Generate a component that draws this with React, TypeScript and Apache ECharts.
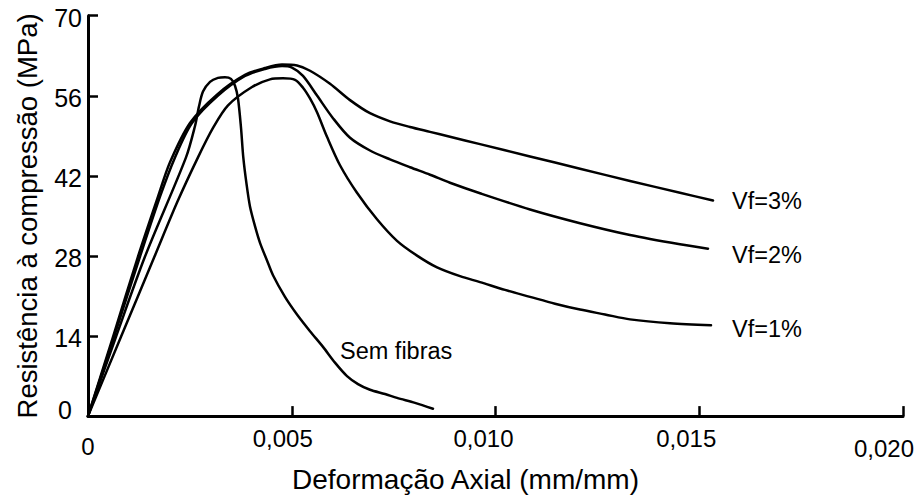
import React, { useEffect, useRef } from "react";
import * as echarts from "echarts";

// Strain (mm/mm) and stress (MPa)
const semFibrasStrain = [0, 0.000687, 0.001399, 0.002405, 0.002626, 0.002724, 0.002822, 0.002994, 0.00319, 0.003362, 0.003509, 0.003607, 0.003681, 0.003755, 0.003811, 0.00389, 0.003975, 0.004098, 0.004221, 0.004393, 0.00454, 0.004834, 0.005129, 0.005448, 0.005767, 0.006061, 0.006356, 0.006626, 0.00692, 0.007288, 0.007583, 0.008025, 0.008466];
const semFibrasStress = [0, 13.87, 27.89, 45.23, 50.72, 54.15, 56.73, 58.44, 59.13, 59.25, 58.96, 57.76, 55.53, 50.38, 45.23, 40.59, 36.65, 33.21, 30.29, 27.21, 24.63, 20.85, 17.77, 14.85, 12.1, 9.35, 7.0, 5.6, 4.6, 3.86, 3.18, 2.32, 1.29];

const vf1Strain = [0, 0.00081, 0.001632, 0.002196, 0.002699, 0.003068, 0.003436, 0.004025, 0.004466, 0.004785, 0.00508, 0.005276, 0.005448, 0.00562, 0.005865, 0.006184, 0.006601, 0.007092, 0.007583, 0.008074, 0.008565, 0.009129, 0.00962, 0.010233, 0.010847, 0.01146, 0.012074, 0.012687, 0.013301, 0.014282, 0.015289];
const vf1Stress = [0, 13.87, 27.89, 37.5, 45.23, 50.38, 54.33, 57.53, 58.87, 59.05, 58.79, 57.41, 55.53, 53.12, 48.83, 43.86, 39.05, 34.41, 30.64, 28.06, 26.0, 24.46, 23.43, 22.06, 20.85, 19.65, 18.62, 17.77, 16.91, 16.22, 15.88];

const vf2Strain = [0, 0.000638, 0.001276, 0.001767, 0.002135, 0.002552, 0.00319, 0.003853, 0.004344, 0.004761, 0.005006, 0.005276, 0.00562, 0.006012, 0.00643, 0.00692, 0.007411, 0.007902, 0.008393, 0.008883, 0.00962, 0.010847, 0.012074, 0.013301, 0.014527, 0.015215];
const vf2Stress = [0, 13.87, 27.89, 38.36, 45.23, 51.24, 56.04, 59.47, 60.68, 61.19, 60.93, 59.47, 56.04, 52.09, 48.66, 46.43, 44.88, 43.51, 42.2, 40.8, 38.96, 36.13, 33.73, 31.67, 30.04, 29.27];

const vf3Strain = [0, 0.000614, 0.001227, 0.001718, 0.002012, 0.002503, 0.003166, 0.003853, 0.004344, 0.004761, 0.005129, 0.005448, 0.005939, 0.00643, 0.00692, 0.007411, 0.007902, 0.008393, 0.008883, 0.00962, 0.010847, 0.012074, 0.013301, 0.014527, 0.015338];
const vf3Stress = [0, 13.87, 27.89, 38.36, 44.37, 51.24, 56.21, 59.65, 60.85, 61.45, 61.28, 60.38, 58.1, 55.24, 52.95, 51.53, 50.55, 49.69, 48.83, 47.55, 45.4, 43.25, 41.11, 39.05, 37.68];

const seriesNames = ["Sem fibras", "Vf=1%", "Vf=2%", "Vf=3%"];
const xTicks = [0, 0.005, 0.01, 0.015, 0.02];
const yTicks = [0, 14, 28, 42, 56, 70];
const xTitle = "Deformação Axial (mm/mm)";
const yTitle = "Resistência à compressão (MPa)";

const FONT = "'Liberation Sans', Arial, Helvetica, sans-serif";

const zip = (xs: number[], ys: number[]) => xs.map((x, i) => [x, ys[i]]);

function App() {
  const ref = useRef<HTMLDivElement>(null);

  useEffect(() => {
    if (!ref.current) return;
    const chart = echarts.init(ref.current, null, { renderer: "svg" });

    const lineBase = {
      type: "line" as const,
      smooth: 0.3,
      symbol: "none",
      showSymbol: false,
      lineStyle: { color: "#000", width: 2.5, join: "round", cap: "round" },
      itemStyle: { color: "#000" },
      silent: true,
    };

    const endLabel = (text: string, distance: number, dy: number) => ({
      show: true,
      formatter: text,
      color: "#000",
      fontSize: 23.5,
      fontFamily: FONT,
      distance,
      offset: [0, dy],
    });

    const xLabelStyle: Record<number, string> = { 0: "z", 0.005: "a", 0.01: "b", 0.015: "c", 0.02: "e" };

    chart.setOption({
      animation: false,
      backgroundColor: "#fff",
      textStyle: { fontFamily: FONT },
      grid: { left: 88, right: 16, top: 15.7, bottom: 74.5, containLabel: false },
      xAxis: {
        type: "value",
        min: xTicks[0],
        max: xTicks[xTicks.length - 1],
        interval: 0.005,
        name: xTitle,
        nameLocation: "middle",
        nameGap: 41,
        nameTextStyle: { fontSize: 28, color: "#000", fontFamily: FONT, padding: [0, 60, 0, 0] },
        axisLine: { show: true, onZero: false, lineStyle: { color: "#000", width: 3 } },
        axisTick: { show: true, inside: true, length: 10, lineStyle: { color: "#000", width: 2.5 } },
        splitLine: { show: false },
        axisLabel: {
          color: "#000",
          fontSize: 24,
          fontFamily: FONT,
          margin: 10,
          formatter: (v: number) => {
            const key = xTicks.find((t) => Math.abs(t - v) < 1e-9);
            const txt = v === 0 ? "0" : v.toFixed(3).replace(".", ",");
            const st = key !== undefined ? xLabelStyle[key] : "a";
            return `{${st}|${txt}}`;
          },
          rich: {
            z: { fontSize: 24, fontFamily: FONT, color: "#000", padding: [8, 0, 0, 0] },
            a: { fontSize: 24, fontFamily: FONT, color: "#000", padding: [0, 18, 0, 0] },
            b: { fontSize: 24, fontFamily: FONT, color: "#000", padding: [0, 24, 0, 0] },
            c: { fontSize: 24, fontFamily: FONT, color: "#000", padding: [0, 26, 0, 0] },
            e: { fontSize: 24, fontFamily: FONT, color: "#000", padding: [10, 38, 0, 0] },
          },
        },
      },
      yAxis: {
        type: "value",
        min: yTicks[0],
        max: yTicks[yTicks.length - 1],
        interval: 14,
        name: yTitle,
        nameLocation: "middle",
        nameGap: 47,
        nameTextStyle: { fontSize: 27.5, color: "#000", fontFamily: FONT },
        axisLine: { show: true, onZero: false, lineStyle: { color: "#000", width: 3 } },
        axisTick: { show: true, inside: true, length: 10, lineStyle: { color: "#000", width: 2.5 } },
        splitLine: { show: false },
        axisLabel: {
          color: "#000",
          fontSize: 25,
          fontFamily: FONT,
          margin: 6,
          formatter: (v: number) => (v === 0 ? "{z|0}" : `{n|${v}}`),
          rich: {
            z: { fontSize: 25, fontFamily: FONT, color: "#000", padding: [0, 10, 12, 0] },
            n: { fontSize: 25, fontFamily: FONT, color: "#000", padding: [4, 0, 0, 0] },
          },
        },
      },
      series: [
        {
          ...lineBase,
          name: seriesNames[0],
          data: zip(semFibrasStrain, semFibrasStress),
          markPoint: {
            symbol: "circle",
            symbolSize: 0,
            silent: true,
            data: [
              {
                coord: [semFibrasStrain[24], semFibrasStress[24]],
                label: {
                  show: true,
                  formatter: seriesNames[0],
                  position: "right",
                  distance: 17,
                  offset: [0, 4],
                  color: "#000",
                  fontSize: 23.5,
                  fontFamily: FONT,
                },
              },
            ],
          },
        },
        {
          ...lineBase,
          name: seriesNames[1],
          data: zip(vf1Strain, vf1Stress),
          endLabel: endLabel(seriesNames[1], 21, 4),
        },
        {
          ...lineBase,
          name: seriesNames[2],
          data: zip(vf2Strain, vf2Stress),
          endLabel: endLabel(seriesNames[2], 24, 6),
        },
        {
          ...lineBase,
          name: seriesNames[3],
          data: zip(vf3Strain, vf3Stress),
          endLabel: endLabel(seriesNames[3], 19, 0),
        },
      ],
    });

    return () => chart.dispose();
  }, []);

  return (
    <div
      ref={ref}
      style={{ position: "fixed", left: 0, top: 0, width: 919, height: 498, background: "#fff" }}
    />
  );
}

export default App;
